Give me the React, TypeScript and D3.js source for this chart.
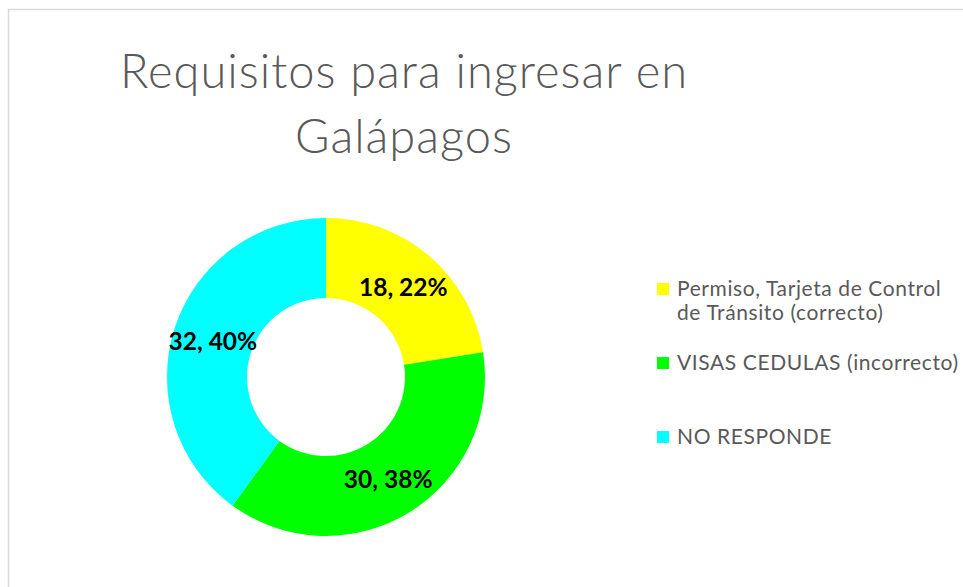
import React from "react";
import * as d3 from "d3";

const categories = [
  "Permiso, Tarjeta de Control de Tránsito (correcto)",
  "VISAS CEDULAS (incorrecto)",
  "NO RESPONDE",
];
const legendLines = [
  ["Permiso, Tarjeta de Control", "de Tránsito (correcto)"],
  ["VISAS CEDULAS (incorrecto)"],
  ["NO RESPONDE"],
];
const values = [18, 30, 32];
const percentLabels = ["22%", "38%", "40%"];
const colors = ["#FFFF00", "#00FF00", "#00FFFF"];
const titleLines = ["Requisitos para ingresar en", "Galápagos"];

export default function App() {
  const W = 963;
  const H = 587;
  const cx = 326;
  const cy = 377;
  const outerR = 159;
  const innerR = 79;

  const pie = d3.pie<number>().sort(null).value((d) => d)(values);
  const arc = d3.arc<d3.PieArcDatum<number>>().innerRadius(innerR).outerRadius(outerR);

  const legendY = [289, 363, 437];

  return (
    <svg
      width={W}
      height={H}
      style={{ position: "absolute", left: 0, top: 0, background: "#fff" }}
    >
      <rect x={0} y={0} width={W} height={H} fill="#fff" />
      <rect x={8.5} y={9.5} width={W + 20} height={H + 20} fill="none" stroke="#d9d9d9" strokeWidth={1.5} />
      <g fontFamily="Lato, 'Open Sans', sans-serif" fill="#595959">
        {titleLines.map((t, i) => (
          <text key={i} x={404} y={88 + i * 65} textAnchor="middle" fontSize={47} fontWeight={300} letterSpacing={1}>
            {t}
          </text>
        ))}
      </g>
      <g transform={`translate(${cx},${cy})`}>
        {pie.map((p, i) => (
          <path key={i} d={arc(p) || ""} fill={colors[i]} />
        ))}
        {pie.map((p, i) => {
          const [x, y] = arc.centroid(p);
          return (
            <text
              key={"l" + i}
              x={x}
              y={y}
              textAnchor="middle"
              dominantBaseline="central"
              fontFamily="Lato, 'Open Sans', sans-serif"
              fontWeight={700}
              fontSize={24.5}
              fill="#000"
            >
              {`${values[i]}, ${percentLabels[i]}`}
            </text>
          );
        })}
      </g>
      <g fontFamily="Lato, 'Open Sans', sans-serif" fontSize={21} fill="#595959" letterSpacing={0.6}>
        {categories.map((c, i) => (
          <g key={c}>
            <rect x={657} y={legendY[i] - 6} width={12} height={12} fill={colors[i]} />
            {legendLines[i].map((line, j) => (
              <text key={j} x={677} y={legendY[i] + 7 + j * 24}>
                {line}
              </text>
            ))}
          </g>
        ))}
      </g>
    </svg>
  );
}
